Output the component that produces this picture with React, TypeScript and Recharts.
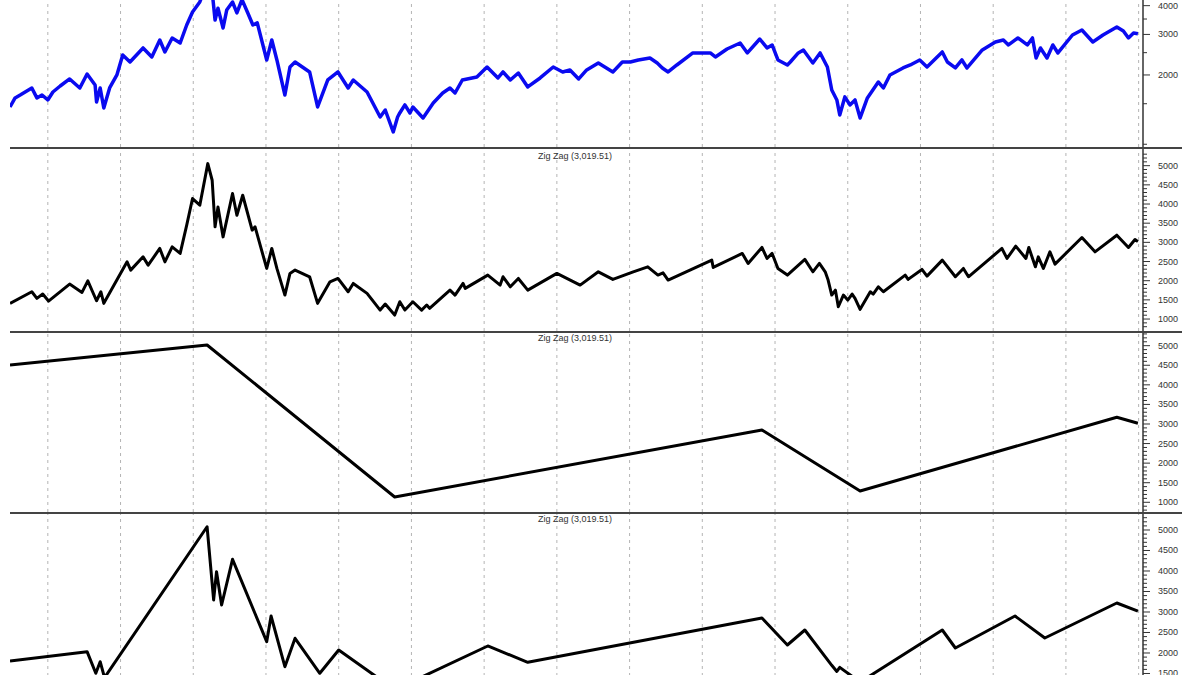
import React from "react";
import { LineChart, Line, XAxis, YAxis, ReferenceLine } from "recharts";

// x values are decimal years, gridlines fall on year starts
const gridYears = [1998, 1999, 2000, 2001, 2002, 2003, 2004, 2005, 2006, 2007, 2008, 2009, 2010, 2011, 2012, 2013];
const xDomain: [number, number] = [1997.48, 2013.06];

// closing prices (top panel, log scale)
const price: [number, number][] = [
  [1997.48, 1452], [1997.55, 1590], [1997.62, 1637], [1997.78, 1756], [1997.85, 1590], [1997.92, 1637],
  [1998.0, 1558], [1998.07, 1687], [1998.17, 1791], [1998.3, 1922], [1998.44, 1756], [1998.54, 2020],
  [1998.65, 1810], [1998.67, 1527], [1998.72, 1756], [1998.77, 1438], [1998.85, 1756], [1998.95, 2000],
  [1999.03, 2443], [1999.13, 2277], [1999.31, 2620], [1999.43, 2394], [1999.54, 2838], [1999.61, 2518],
  [1999.71, 2896], [1999.82, 2754], [1999.91, 3297], [1999.99, 3755], [2000.09, 4150], [2000.19, 5050],
  [2000.26, 4600], [2000.3, 3465], [2000.34, 3900], [2000.41, 3200], [2000.46, 3829], [2000.54, 4150],
  [2000.6, 3720], [2000.67, 4250], [2000.75, 3720], [2000.82, 3297], [2000.88, 3366], [2001.01, 2324],
  [2001.08, 2838], [2001.15, 2324], [2001.26, 1637], [2001.33, 2166], [2001.4, 2277], [2001.6, 2061],
  [2001.71, 1452], [2001.85, 1902], [2001.99, 2061], [2002.13, 1756], [2002.2, 1902], [2002.39, 1687],
  [2002.57, 1314], [2002.64, 1409], [2002.75, 1131], [2002.81, 1314], [2002.84, 1368], [2002.91, 1482],
  [2002.98, 1368], [2003.02, 1452], [2003.16, 1301], [2003.3, 1512], [2003.43, 1670], [2003.53, 1756],
  [2003.6, 1670], [2003.7, 1902], [2003.9, 1960], [2004.04, 2166], [2004.19, 1941], [2004.26, 2061],
  [2004.36, 1902], [2004.47, 2040], [2004.6, 1774], [2004.77, 1941], [2004.95, 2166], [2005.08, 2061],
  [2005.18, 2103], [2005.3, 1922], [2005.41, 2103], [2005.57, 2255], [2005.77, 2061], [2005.9, 2277],
  [2006.01, 2277], [2006.12, 2324], [2006.28, 2370], [2006.38, 2255], [2006.45, 2145], [2006.53, 2061],
  [2006.65, 2210], [2006.87, 2493], [2007.11, 2493], [2007.18, 2394], [2007.34, 2594], [2007.52, 2754],
  [2007.62, 2493], [2007.79, 2866], [2007.89, 2620], [2007.96, 2700], [2008.04, 2324], [2008.17, 2210],
  [2008.21, 2277], [2008.32, 2493], [2008.39, 2568], [2008.52, 2255], [2008.62, 2493], [2008.72, 2166],
  [2008.78, 1721], [2008.85, 1558], [2008.89, 1341], [2008.96, 1606], [2009.03, 1482], [2009.1, 1558],
  [2009.17, 1301], [2009.27, 1590], [2009.42, 1864], [2009.49, 1756], [2009.58, 2000], [2009.76, 2145],
  [2009.86, 2210], [2009.99, 2324], [2010.09, 2166], [2010.3, 2518], [2010.37, 2277], [2010.48, 2145],
  [2010.57, 2324], [2010.64, 2145], [2010.85, 2568], [2011.03, 2782], [2011.14, 2838], [2011.21, 2700],
  [2011.34, 2896], [2011.47, 2700], [2011.54, 2896], [2011.59, 2370], [2011.65, 2620], [2011.74, 2370],
  [2011.82, 2700], [2011.89, 2493], [2012.09, 2983], [2012.22, 3137], [2012.37, 2782], [2012.51, 2983],
  [2012.7, 3233], [2012.79, 3106], [2012.86, 2896], [2012.93, 3043], [2012.99, 3019.51],
];

// zig zag pivots, small reversal
const zigSmall: [number, number][] = [
  [1997.48, 1409], [1997.78, 1711], [1997.85, 1539], [1997.93, 1651], [1998.01, 1469], [1998.3, 1911],
  [1998.47, 1695], [1998.55, 1997], [1998.67, 1477], [1998.73, 1711], [1998.77, 1409], [1999.09, 2492],
  [1999.14, 2276], [1999.31, 2622], [1999.38, 2406], [1999.54, 2841], [1999.61, 2492], [1999.71, 2883],
  [1999.82, 2711], [1999.91, 3448], [1999.99, 4143], [2000.09, 3969], [2000.2, 5054], [2000.26, 4620],
  [2000.3, 3404], [2000.34, 3925], [2000.41, 3143], [2000.54, 4273], [2000.6, 3708], [2000.68, 4229],
  [2000.81, 3318], [2000.85, 3404], [2001.01, 2320], [2001.08, 2841], [2001.15, 2320], [2001.26, 1625],
  [2001.33, 2190], [2001.4, 2276], [2001.6, 2102], [2001.71, 1409], [2001.88, 1971], [2001.99, 2059],
  [2002.13, 1711], [2002.2, 1929], [2002.39, 1669], [2002.57, 1234], [2002.64, 1391], [2002.77, 1104],
  [2002.84, 1451], [2002.91, 1234], [2003.02, 1451], [2003.14, 1234], [2003.21, 1365], [2003.25, 1279],
  [2003.53, 1755], [2003.6, 1625], [2003.71, 1929], [2003.74, 1799], [2004.05, 2146], [2004.22, 1885],
  [2004.26, 2102], [2004.36, 1841], [2004.47, 2059], [2004.6, 1755], [2005.0, 2190], [2005.32, 1885],
  [2005.57, 2232], [2005.77, 2034], [2006.05, 2232], [2006.25, 2362], [2006.39, 2146], [2006.46, 2206],
  [2006.53, 2016], [2007.13, 2536], [2007.15, 2346], [2007.55, 2711], [2007.63, 2450], [2007.82, 2867],
  [2007.89, 2581], [2007.96, 2711], [2008.04, 2320], [2008.17, 2146], [2008.41, 2555], [2008.52, 2232],
  [2008.61, 2450], [2008.69, 2232], [2008.73, 2016], [2008.78, 1625], [2008.83, 1755], [2008.87, 1320],
  [2008.94, 1625], [2009.0, 1495], [2009.06, 1651], [2009.1, 1539], [2009.17, 1253], [2009.31, 1711],
  [2009.35, 1651], [2009.42, 1841], [2009.49, 1711], [2009.79, 2146], [2009.83, 2034], [2010.02, 2294],
  [2010.09, 2120], [2010.3, 2536], [2010.48, 2102], [2010.59, 2320], [2010.66, 2102], [2011.12, 2841],
  [2011.19, 2581], [2011.31, 2901], [2011.45, 2581], [2011.49, 2867], [2011.58, 2362], [2011.62, 2622],
  [2011.69, 2320], [2011.78, 2753], [2011.85, 2432], [2012.22, 3127], [2012.4, 2753], [2012.7, 3187],
  [2012.86, 2867], [2012.95, 3075], [2012.99, 3019.51],
];

// zig zag pivots, large reversal
const zigLarge: [number, number][] = [
  [1997.48, 4507], [2000.19, 5017], [2002.77, 1135], [2007.82, 2847], [2009.17, 1289], [2012.7, 3171],
  [2012.99, 3019.51],
];

// zig zag pivots, medium reversal
const zigMedium: [number, number][] = [
  [1997.48, 1805], [1998.54, 2032], [1998.66, 1505], [1998.72, 1788], [1998.78, 1400], [2000.19, 5080],
  [2000.28, 3293], [2000.32, 3983], [2000.39, 3171], [2000.54, 4285], [2001.01, 2276], [2001.07, 2902],
  [2001.26, 1666], [2001.4, 2359], [2001.74, 1505], [2002.0, 2073], [2002.77, 1104], [2004.05, 2171],
  [2004.6, 1773], [2007.82, 2854], [2008.17, 2195], [2008.41, 2561], [2008.78, 1700], [2008.85, 1550],
  [2008.89, 1650], [2009.17, 1290], [2010.3, 2561], [2010.48, 2122], [2011.3, 2902], [2011.71, 2366],
  [2012.7, 3220], [2012.99, 3019.51],
];

const priceTicks = [1000, 1500, 2000, 2500, 3000, 3500, 4000, 4500, 5000, 5500];
const priceLabels = [2000, 3000, 4000, 5000];
const zigTicks = Array.from({ length: 46 }, (_, i) => 800 + i * 100);
const zigLabels = [1000, 1500, 2000, 2500, 3000, 3500, 4000, 4500, 5000];
const zigTitle = "Zig Zag (3,019.51)";

const toRows = (pts: [number, number][]) => pts.map(([t, v]) => ({ t, v }));

const FONT = "'Liberation Sans', Arial, sans-serif";

function makeTick(labels: number[]) {
  return (props: any) => {
    const { x, y, payload } = props;
    const major = labels.includes(payload.value);
    return (
      <g>
        <line x1={x} y1={y} x2={x + (major ? 7 : 4)} y2={y} stroke="#333" strokeWidth={1} />
        {major && (
          <text x={x + 15} y={y} dy={3} fontSize={9} fill="#333" fontFamily={FONT}>
            {payload.value}
          </text>
        )}
      </g>
    );
  };
}

interface PanelProps {
  data: [number, number][];
  top: number;
  height: number;
  domain: [number, number];
  ticks: number[];
  labels: number[];
  color: string;
  width: number;
  log?: boolean;
}

function Panel({ data, top, height, domain, ticks, labels, color, width, log }: PanelProps) {
  return (
    <div style={{ position: "absolute", left: 0, top }}>
      <LineChart width={1200} height={height} data={toRows(data)} margin={{ top: 0, right: 0, bottom: 0, left: 10 }}>
        <XAxis dataKey="t" type="number" domain={xDomain} hide allowDataOverflow />
        <YAxis
          orientation="right"
          width={57}
          scale={log ? "log" : "linear"}
          domain={domain}
          allowDataOverflow
          ticks={ticks}
          interval={0}
          tickLine={false}
          tickSize={0}
          tickMargin={0}
          axisLine={{ stroke: "#333", strokeWidth: 1.5 }}
          tick={makeTick(labels)}
        />
        {gridYears.map((yr) => (
          <ReferenceLine key={yr} x={yr} stroke="#b4b4b4" strokeDasharray="3 4" />
        ))}
        <Line
          type="linear"
          dataKey="v"
          stroke={color}
          strokeWidth={width}
          dot={false}
          isAnimationActive={false}
          strokeLinejoin="round"
        />
      </LineChart>
    </div>
  );
}

const separators = [147, 331, 512];
const titleTops = [151, 333, 514];

export default function App() {
  return (
    <div
      style={{
        position: "fixed",
        left: 0,
        top: 0,
        width: 1200,
        height: 675,
        overflow: "hidden",
        background: "#fff",
        fontFamily: FONT,
      }}
    >
      <Panel data={price} top={-30} height={177} domain={[973, 5715]} ticks={priceTicks} labels={priceLabels} color="#0a0af0" width={3.5} log />
      <Panel data={zigSmall} top={148} height={183} domain={[688, 5461]} ticks={zigTicks} labels={zigLabels} color="#000" width={3} />
      <Panel data={zigLarge} top={331} height={181} domain={[752, 5375]} ticks={zigTicks} labels={zigLabels} color="#000" width={3} />
      <Panel data={zigMedium} top={512} height={192} domain={[756, 5439]} ticks={zigTicks} labels={zigLabels} color="#000" width={3} />
      {separators.map((y) => (
        <div key={y} style={{ position: "absolute", left: 10, top: y, width: 1172, height: 2, background: "#444" }} />
      ))}
      {titleTops.map((y) => (
        <div key={y} style={{ position: "absolute", left: 538, top: y, fontSize: 9, lineHeight: "10px", color: "#333", whiteSpace: "nowrap" }}>
          {zigTitle}
        </div>
      ))}
    </div>
  );
}
